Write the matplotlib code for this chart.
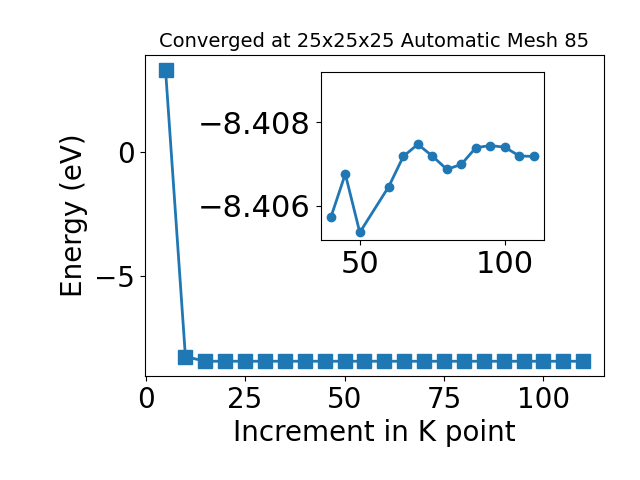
import matplotlib
matplotlib.use("Agg")
import matplotlib.pyplot as plt

# k-point increments and total energies (eV)
kpoints = [5, 10, 15, 20, 25, 30, 35, 40, 45, 50, 55, 60, 65, 70, 75, 80, 85, 90, 95, 100, 105, 110]
energy = [3.30, -8.22, -8.4060, -8.4062, -8.4064, -8.4063, -8.4061,
          -8.40572, -8.40676, -8.40536, -8.4060, -8.40646, -8.40718, -8.40747,
          -8.40719, -8.40687, -8.40699, -8.40739, -8.40744, -8.40740, -8.40719, -8.40718]

# zoomed-in part
k_zoom = [40, 45, 50, 60, 65, 70, 75, 80, 85, 90, 95, 100, 105, 110]
e_zoom = [-8.40572, -8.40676, -8.40536, -8.40646, -8.40718, -8.40747, -8.40719,
          -8.40687, -8.40699, -8.40739, -8.40744, -8.40740, -8.40719, -8.40718]

fig = plt.figure(figsize=(6.4, 4.8), dpi=100)
ax = fig.add_axes([0.226, 0.217, 0.718, 0.668])
ax.plot(kpoints, energy, marker='s', markersize=10, linewidth=2)
ax.set_title("Converged at 25x25x25 Automatic Mesh 85", fontsize=14)
ax.set_xlabel("Increment in K point", fontsize=20)
ax.set_ylabel("Energy (eV)", fontsize=20)
ax.tick_params(labelsize=20)

# inset
axin = fig.add_axes([0.501, 0.5, 0.349, 0.35])
axin.plot(k_zoom, e_zoom, marker='o', markersize=6, linewidth=2)
axin.set_ylim(-8.40518, -8.40920)
axin.set_yticks([-8.408, -8.406])
axin.tick_params(labelsize=22)

fig.savefig("out.png", dpi=100)
